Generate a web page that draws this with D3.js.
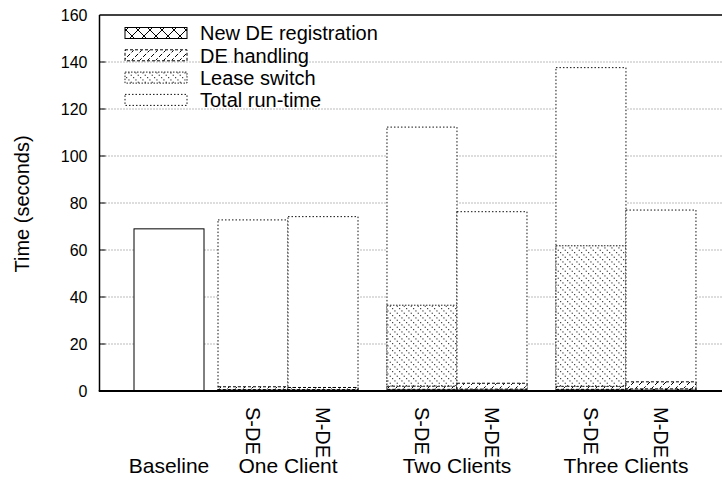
<!DOCTYPE html>
<html>
<head>
<meta charset="utf-8">
<script src="https://cdn.jsdelivr.net/npm/d3@7"></script>
<style>
  body { margin: 0; background: #fff; }
  svg { display: block; font-family: "Liberation Sans", Arial, Helvetica, sans-serif; }
</style>
</head>
<body>
<svg id="chart" width="722" height="488"></svg>
<script>
// ---- data ----
const groups = ["Baseline", "One Client", "Two Clients", "Three Clients"];
const variants = ["S-DE", "M-DE"];
const barGroup = [0, 1, 1, 2, 2, 3, 3];
const barLabel = ["", "S-DE", "M-DE", "S-DE", "M-DE", "S-DE", "M-DE"];
const newRegistration = [0, 0.6, 0.6, 0.7, 0.8, 0.7, 0.9];
const deHandling = [0, 1.2, 0.9, 1.4, 2.5, 1.3, 3.0];
const leaseSwitch = [0, 0, 0, 34.4, 0, 59.8, 0];
const totalRuntime = [69, 72.8, 74.2, 112.3, 76.3, 137.6, 77.0];
const yTicks = [0, 20, 40, 60, 80, 100, 120, 140, 160];
const seriesNames = ["New DE registration", "DE handling", "Lease switch", "Total run-time"];

// ---- layout ----
const svg = d3.select("#chart");
const L = 99.5, T = 15, B = 391, R = 730;
const y = d3.scaleLinear().domain([0, 160]).range([B, T]);

const slots = [];
{
  let pos = 0;
  for (let i = 0; i < barGroup.length; i++) {
    if (i > 0 && barGroup[i] !== barGroup[i - 1]) pos += (barGroup[i - 1] === 0 ? 0.2 : 0.414);
    slots.push(pos);
    pos += 1;
  }
}
const x = d3.scaleLinear().domain([0, 1]).range([134, 204]);
const bw = x(1) - x(0);

// ---- patterns ----
const defs = svg.append("defs");
const pc = defs.append("pattern").attr("id", "cross").attr("patternUnits", "userSpaceOnUse")
  .attr("width", 12).attr("height", 12);
pc.append("rect").attr("width", 12).attr("height", 12).attr("fill", "#fff");
pc.append("path").attr("d", "M0,0L12,12M12,0L0,12").attr("stroke", "#000").attr("stroke-width", 1);

const ph = defs.append("pattern").attr("id", "hatch").attr("patternUnits", "userSpaceOnUse")
  .attr("width", 8).attr("height", 8);
ph.append("rect").attr("width", 8).attr("height", 8).attr("fill", "#fff");
ph.append("path").attr("d", "M0,8L8,0M-2,2L2,-2M6,10L10,6").attr("stroke", "#000")
  .attr("stroke-width", 1).attr("stroke-dasharray", "3,2");

const pd = defs.append("pattern").attr("id", "dots").attr("patternUnits", "userSpaceOnUse")
  .attr("width", 7).attr("height", 7);
pd.append("rect").attr("width", 7).attr("height", 7).attr("fill", "#fff");
[[0, 0], [2.33, 2.33], [4.67, 4.67]].forEach(([cx, cy]) => {
  pd.append("rect").attr("x", cx).attr("y", cy).attr("width", 1.2).attr("height", 1.2).attr("fill", "#444");
});

const styles = [
  { fill: "url(#cross)", stroke: "#000", dash: null },
  { fill: "url(#hatch)", stroke: "#000", dash: "3,2" },
  { fill: "url(#dots)", stroke: "#222", dash: "1.5,1.5" },
  { fill: "#fff", stroke: "#111", dash: "1.5,2" }
];

defs.append("clipPath").attr("id", "plotclip").append("rect")
  .attr("x", L).attr("y", T).attr("width", R - L).attr("height", B - T);

// ---- grid ----
const grid = svg.append("g");
yTicks.filter(t => t > 0 && t < 160).forEach(t => {
  grid.append("line").attr("x1", L).attr("x2", R).attr("y1", y(t)).attr("y2", y(t))
    .attr("stroke", "#777").attr("stroke-width", 1).attr("stroke-dasharray", "1,2");
  grid.append("line").attr("x1", L).attr("x2", L + 6).attr("y1", y(t)).attr("y2", y(t))
    .attr("stroke", "#000").attr("stroke-width", 1);
});

// ---- bars ----
const bars = svg.append("g").attr("clip-path", "url(#plotclip)");
totalRuntime.forEach((tot, i) => {
  const x0 = x(slots[i]);
  const isBase = barGroup[i] === 0;
  bars.append("rect").attr("x", x0).attr("y", y(tot)).attr("width", bw).attr("height", y(0) - y(tot))
    .attr("fill", "#fff").attr("stroke", isBase ? "#000" : styles[3].stroke)
    .attr("stroke-width", 1).attr("stroke-dasharray", isBase ? null : styles[3].dash);
  const segs = [newRegistration[i], deHandling[i], leaseSwitch[i]];
  let acc = 0;
  segs.forEach((v, k) => {
    if (v <= 0) return;
    const y1 = y(acc + v), y0 = y(acc);
    bars.append("rect").attr("x", x0).attr("y", y1).attr("width", bw).attr("height", y0 - y1)
      .attr("fill", styles[k].fill).attr("stroke", styles[k].stroke)
      .attr("stroke-width", 1).attr("stroke-dasharray", styles[k].dash);
    acc += v;
  });
});

// ---- frame ----
svg.append("line").attr("x1", L).attr("x2", R).attr("y1", T).attr("y2", T).attr("stroke", "#000").attr("stroke-width", 1.5);
svg.append("line").attr("x1", L).attr("x2", L).attr("y1", T).attr("y2", B).attr("stroke", "#000").attr("stroke-width", 1.5);
svg.append("line").attr("x1", L - 0.75).attr("x2", R).attr("y1", B).attr("y2", B).attr("stroke", "#000").attr("stroke-width", 2);

// ---- y axis labels ----
const yAxis = d3.axisLeft(y).tickValues(yTicks).tickSize(0).tickPadding(12);
const ya = svg.append("g").attr("transform", `translate(${L},0)`).call(yAxis);
ya.select(".domain").remove();
ya.selectAll("text").attr("font-size", 16).attr("font-family", "Liberation Sans, Arial, sans-serif").attr("fill", "#000");

svg.append("text").attr("transform", `translate(29,204) rotate(-90)`).attr("text-anchor", "middle")
  .attr("font-size", 20).text("Time (seconds)");

// ---- x labels ----
barLabel.forEach((lab, i) => {
  if (!lab) return;
  const cx = x(slots[i]) + bw / 2;
  svg.append("text").attr("transform", `translate(${cx - 7},407) rotate(90)`)
    .attr("text-anchor", "start").attr("font-size", 20).text(lab);
});
groups.forEach((g, gi) => {
  const idx = barGroup.map((b, i) => b === gi ? i : -1).filter(i => i >= 0);
  const cx = (x(slots[idx[0]]) + x(slots[idx[idx.length - 1]]) + bw) / 2;
  svg.append("text").attr("x", cx).attr("y", 473).attr("text-anchor", "middle")
    .attr("font-size", 21).text(g);
});

// ---- legend ----
const lg = svg.append("g");
seriesNames.forEach((n, k) => {
  const cy = 33 + k * 22.3;
  lg.append("rect").attr("x", 125).attr("y", cy - 5.5).attr("width", 62).attr("height", 11)
    .attr("fill", styles[k].fill).attr("stroke", styles[k].stroke).attr("stroke-width", 1)
    .attr("stroke-dasharray", styles[k].dash);
  lg.append("text").attr("x", 200).attr("y", cy).attr("dy", "0.36em").attr("font-size", 20).text(n);
});
</script>
</body>
</html>
